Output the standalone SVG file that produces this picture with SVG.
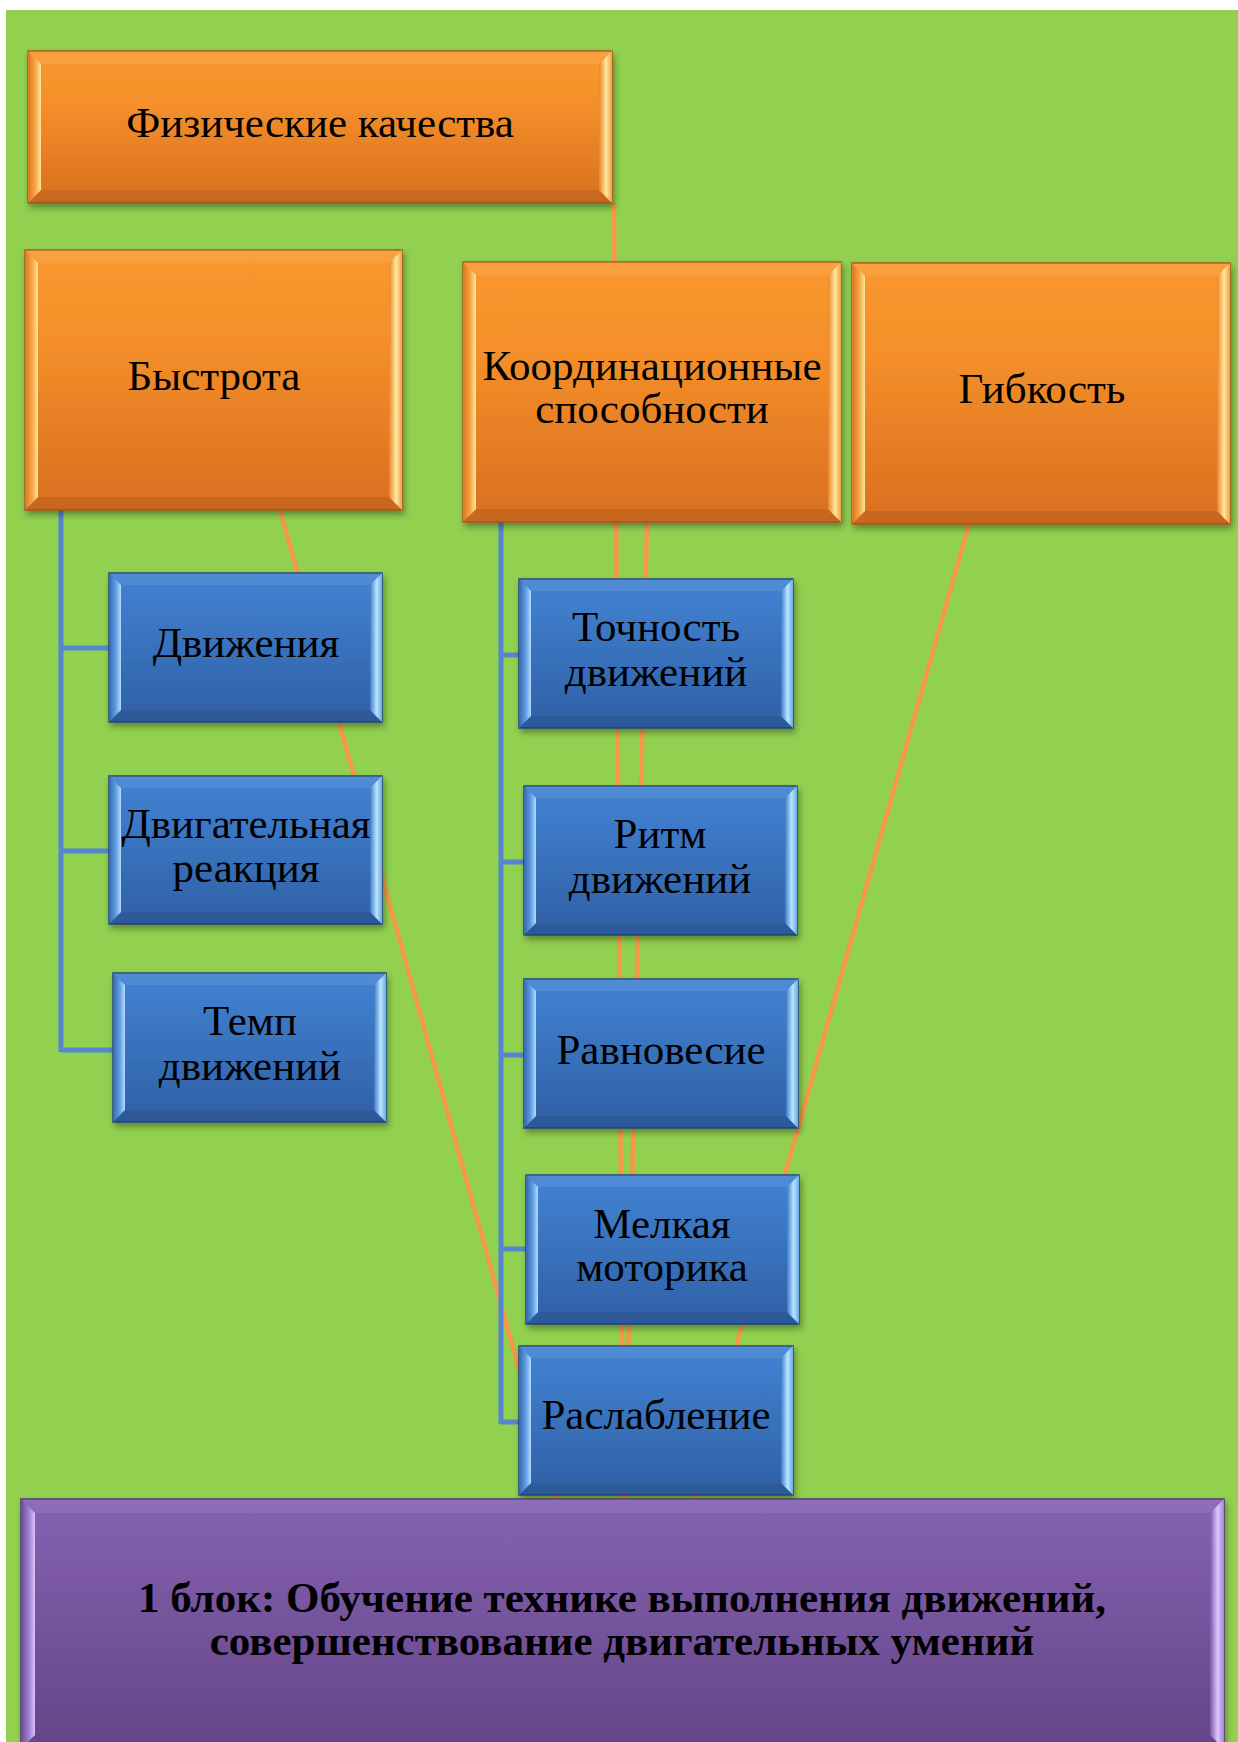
<svg xmlns="http://www.w3.org/2000/svg" width="1238" height="1742" viewBox="0 0 1238 1742">
<defs>
<linearGradient id="gO" x1="0" y1="0" x2="0" y2="1"><stop offset="0" stop-color="#FA982E"/><stop offset="0.35" stop-color="#F48F2A"/><stop offset="1" stop-color="#D86F20"/></linearGradient>
<linearGradient id="gB" x1="0" y1="0" x2="0" y2="1"><stop offset="0" stop-color="#4283D3"/><stop offset="1" stop-color="#2F60A5"/></linearGradient>
<linearGradient id="gP" x1="0" y1="0" x2="0" y2="1"><stop offset="0" stop-color="#8662B2"/><stop offset="1" stop-color="#634587"/></linearGradient>
<linearGradient id="oL" x1="0" y1="0" x2="1" y2="0"><stop offset="0" stop-color="#DC7623"/><stop offset="0.55" stop-color="#F6A544"/><stop offset="1" stop-color="#FFE79E"/></linearGradient>
<linearGradient id="oR" x1="0" y1="0" x2="1" y2="0"><stop offset="0" stop-color="#E8852A"/><stop offset="0.55" stop-color="#FFE8A0"/><stop offset="1" stop-color="#F2A042"/></linearGradient>
<linearGradient id="bL" x1="0" y1="0" x2="1" y2="0"><stop offset="0" stop-color="#3468B0"/><stop offset="0.55" stop-color="#5F9BE0"/><stop offset="1" stop-color="#B4DCFF"/></linearGradient>
<linearGradient id="bR" x1="0" y1="0" x2="1" y2="0"><stop offset="0" stop-color="#3E7CC8"/><stop offset="0.55" stop-color="#B8E4FF"/><stop offset="1" stop-color="#6BA9EA"/></linearGradient>
<linearGradient id="pL" x1="0" y1="0" x2="1" y2="0"><stop offset="0" stop-color="#6A4B98"/><stop offset="0.55" stop-color="#9C7CCC"/><stop offset="1" stop-color="#DCC4FF"/></linearGradient>
<linearGradient id="pR" x1="0" y1="0" x2="1" y2="0"><stop offset="0" stop-color="#7A58AA"/><stop offset="0.55" stop-color="#DCC6FF"/><stop offset="1" stop-color="#A484D4"/></linearGradient>
<filter id="sh" x="-10%" y="-10%" width="120%" height="125%"><feDropShadow dx="2" dy="4" stdDeviation="3" flood-color="#000" flood-opacity="0.35"/></filter>
</defs>
<style>
.o{stroke:#F79646;stroke-width:4.5;fill:none}
.bl{stroke:#5586CF;stroke-width:5;fill:none}
.ob{fill:url(#gO);stroke:#A85A1E;stroke-width:1.5}
.bb{fill:url(#gB);stroke:#25487A;stroke-width:1.5}
.pb{fill:url(#gP);stroke:#4E3570;stroke-width:1.5}
.ol{fill:url(#oL)}.or{fill:url(#oR)}
.bvl{fill:url(#bL)}.bvr{fill:url(#bR)}
.pl{fill:url(#pL)}.pr{fill:url(#pR)}
.tp{fill:#FFFFFF;fill-opacity:0.08}
.bt{fill:#000000;fill-opacity:0.08}
.t{font-family:"Liberation Serif","Times New Roman",serif;font-size:43px;fill:#000;text-anchor:middle}
.tb{font-family:"Liberation Serif","Times New Roman",serif;font-size:43px;font-weight:bold;fill:#000;text-anchor:middle}
</style>
<rect x="0" y="0" width="1238" height="1742" fill="#FFFFFF"/>
<rect x="6" y="10" width="1232" height="1732" fill="#92D050"/>

<g id="connectors">
<line class="o" x1="614" y1="203" x2="623" y2="1499"/>
<line class="o" x1="647" y1="522" x2="625" y2="1499"/>
<line class="o" x1="280" y1="510" x2="555" y2="1499"/>
<line class="o" x1="969" y1="524" x2="693" y2="1499"/>
<path class="bl" d="M61,510 V1052 M61,648 H109 M61,851 H109 M61,1050 H113"/>
<path class="bl" d="M501,522 V1424 M501,655 H519 M501,862 H524 M501,1055 H524 M501,1249 H526 M501,1422 H519"/>
</g>

<g id="node-fiz">
<rect class="ob" filter="url(#sh)" x="28" y="51" width="584" height="152"/>
<polygon class="tp" points="28,51 612,51 599,64 41,64"/>
<polygon class="bt" points="28,203 612,203 599,190 41,190"/>
<polygon class="ol" points="28,51 41,64 41,190 28,203"/>
<polygon class="or" points="612,51 599,64 599,190 612,203"/>
<text class="t" x="320" y="137">Физические качества</text>
</g>

<g id="node-bystrota">
<rect class="ob" filter="url(#sh)" x="25" y="250" width="377" height="260"/>
<polygon class="tp" points="25,250 402,250 389,263 38,263"/>
<polygon class="bt" points="25,510 402,510 389,497 38,497"/>
<polygon class="ol" points="25,250 38,263 38,497 25,510"/>
<polygon class="or" points="402,250 389,263 389,497 402,510"/>
<text class="t" x="214" y="390">Быстрота</text>
</g>

<g id="node-koord">
<rect class="ob" filter="url(#sh)" x="463" y="262" width="378" height="260"/>
<polygon class="tp" points="463,262 841,262 828,275 476,275"/>
<polygon class="bt" points="463,522 841,522 828,509 476,509"/>
<polygon class="ol" points="463,262 476,275 476,509 463,522"/>
<polygon class="or" points="841,262 828,275 828,509 841,522"/>
<text class="t" x="652" y="380">Координационные</text>
<text class="t" x="652" y="423">способности</text>
</g>

<g id="node-gibkost">
<rect class="ob" filter="url(#sh)" x="852" y="263" width="378" height="261"/>
<polygon class="tp" points="852,263 1230,263 1217,276 865,276"/>
<polygon class="bt" points="852,524 1230,524 1217,511 865,511"/>
<polygon class="ol" points="852,263 865,276 865,511 852,524"/>
<polygon class="or" points="1230,263 1217,276 1217,511 1230,524"/>
<text class="t" x="1042" y="403">Гибкость</text>
</g>

<g id="node-dvizheniya">
<rect class="bb" filter="url(#sh)" x="109" y="573" width="273" height="149"/>
<polygon class="tp" points="109,573 382,573 370,585 121,585"/>
<polygon class="bt" points="109,722 382,722 370,710 121,710"/>
<polygon class="bvl" points="109,573 121,585 121,710 109,722"/>
<polygon class="bvr" points="382,573 370,585 370,710 382,722"/>
<text class="t" x="246" y="657">Движения</text>
</g>

<g id="node-dvig-reakciya">
<rect class="bb" filter="url(#sh)" x="109" y="776" width="273" height="148"/>
<polygon class="tp" points="109,776 382,776 370,788 121,788"/>
<polygon class="bt" points="109,924 382,924 370,912 121,912"/>
<polygon class="bvl" points="109,776 121,788 121,912 109,924"/>
<polygon class="bvr" points="382,776 370,788 370,912 382,924"/>
<text class="t" x="246" y="838">Двигательная</text>
<text class="t" x="246" y="882">реакция</text>
</g>

<g id="node-temp">
<rect class="bb" filter="url(#sh)" x="113" y="973" width="273" height="149"/>
<polygon class="tp" points="113,973 386,973 374,985 125,985"/>
<polygon class="bt" points="113,1122 386,1122 374,1110 125,1110"/>
<polygon class="bvl" points="113,973 125,985 125,1110 113,1122"/>
<polygon class="bvr" points="386,973 374,985 374,1110 386,1122"/>
<text class="t" x="250" y="1035">Темп</text>
<text class="t" x="250" y="1080">движений</text>
</g>

<g id="node-tochnost">
<rect class="bb" filter="url(#sh)" x="519" y="579" width="274" height="149"/>
<polygon class="tp" points="519,579 793,579 781,591 531,591"/>
<polygon class="bt" points="519,728 793,728 781,716 531,716"/>
<polygon class="bvl" points="519,579 531,591 531,716 519,728"/>
<polygon class="bvr" points="793,579 781,591 781,716 793,728"/>
<text class="t" x="656" y="641">Точность</text>
<text class="t" x="656" y="686">движений</text>
</g>

<g id="node-ritm">
<rect class="bb" filter="url(#sh)" x="524" y="786" width="273" height="149"/>
<polygon class="tp" points="524,786 797,786 785,798 536,798"/>
<polygon class="bt" points="524,935 797,935 785,923 536,923"/>
<polygon class="bvl" points="524,786 536,798 536,923 524,935"/>
<polygon class="bvr" points="797,786 785,798 785,923 797,935"/>
<text class="t" x="660" y="848">Ритм</text>
<text class="t" x="660" y="893">движений</text>
</g>

<g id="node-ravnovesie">
<rect class="bb" filter="url(#sh)" x="524" y="979" width="274" height="149"/>
<polygon class="tp" points="524,979 798,979 786,991 536,991"/>
<polygon class="bt" points="524,1128 798,1128 786,1116 536,1116"/>
<polygon class="bvl" points="524,979 536,991 536,1116 524,1128"/>
<polygon class="bvr" points="798,979 786,991 786,1116 798,1128"/>
<text class="t" x="661" y="1064">Равновесие</text>
</g>

<g id="node-melkaya">
<rect class="bb" filter="url(#sh)" x="526" y="1175" width="273" height="149"/>
<polygon class="tp" points="526,1175 799,1175 787,1187 538,1187"/>
<polygon class="bt" points="526,1324 799,1324 787,1312 538,1312"/>
<polygon class="bvl" points="526,1175 538,1187 538,1312 526,1324"/>
<polygon class="bvr" points="799,1175 787,1187 787,1312 799,1324"/>
<text class="t" x="662" y="1238">Мелкая</text>
<text class="t" x="662" y="1281">моторика</text>
</g>

<g id="node-raslablenie">
<rect class="bb" filter="url(#sh)" x="519" y="1346" width="274" height="149"/>
<polygon class="tp" points="519,1346 793,1346 781,1358 531,1358"/>
<polygon class="bt" points="519,1495 793,1495 781,1483 531,1483"/>
<polygon class="bvl" points="519,1346 531,1358 531,1483 519,1495"/>
<polygon class="bvr" points="793,1346 781,1358 781,1483 793,1495"/>
<text class="t" x="656" y="1429">Раслабление</text>
</g>

<g id="node-block1">
<rect class="pb" filter="url(#sh)" x="21" y="1499" width="1203" height="250"/>
<polygon class="tp" points="21,1499 1224,1499 1210,1513 35,1513"/>
<polygon class="pl" points="21,1499 35,1513 35,1735 21,1749"/>
<polygon class="pr" points="1224,1499 1210,1513 1210,1735 1224,1749"/>
<text class="tb" x="622" y="1612">1 блок: Обучение технике выполнения движений,</text>
<text class="tb" x="622" y="1655">совершенствование двигательных умений</text>
</g>
</svg>
